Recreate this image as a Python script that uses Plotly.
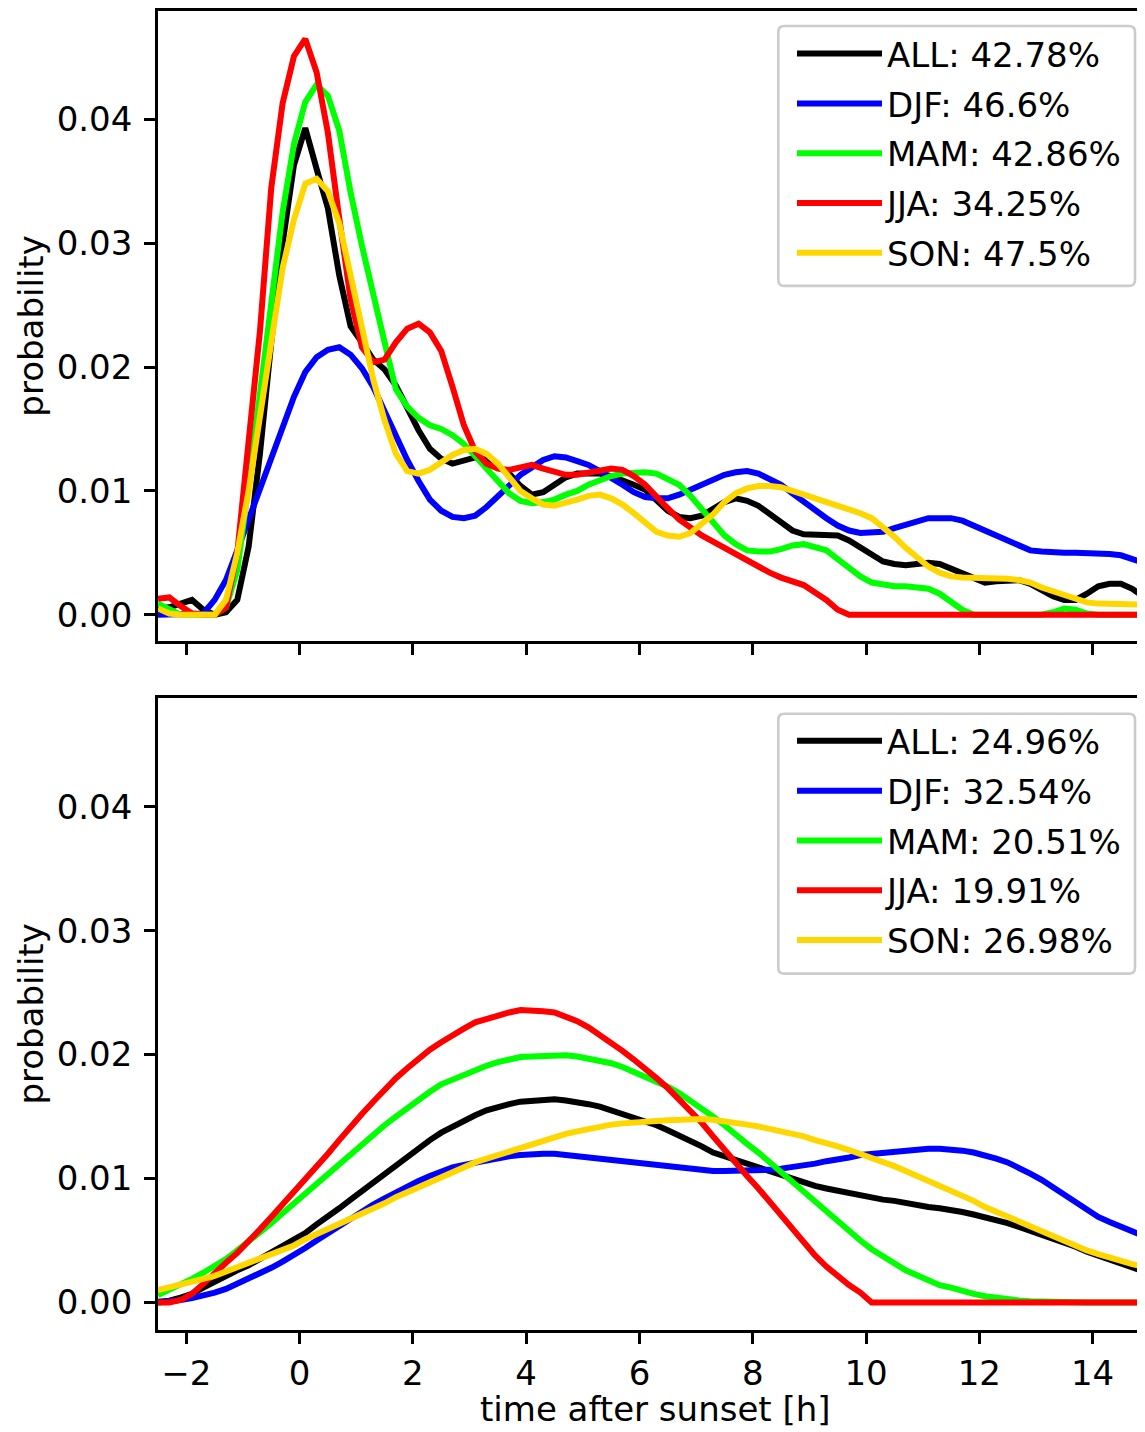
import plotly.graph_objects as go

# ---------------- data ----------------
hours = [-2.5, -2.3, -2.1, -1.9, -1.7, -1.5, -1.3, -1.1, -0.9, -0.7,
         -0.5, -0.3, -0.1, 0.1, 0.3, 0.5, 0.7, 0.9, 1.1, 1.3,
         1.5, 1.7, 1.9, 2.1, 2.3, 2.5, 2.7, 2.9, 3.1, 3.3,
         3.5, 3.7, 3.9, 4.1, 4.3, 4.5, 4.7, 4.9, 5.1, 5.3,
         5.5, 5.7, 5.9, 6.1, 6.3, 6.5, 6.7, 6.9, 7.1, 7.3,
         7.5, 7.7, 7.9, 8.1, 8.3, 8.5, 8.7, 8.9, 9.1, 9.3,
         9.5, 9.7, 9.9, 10.1, 10.3, 10.5, 10.7, 10.9, 11.1, 11.3,
         11.5, 11.7, 11.9, 12.1, 12.3, 12.5, 12.7, 12.9, 13.1, 13.3,
         13.5, 13.7, 13.9, 14.1, 14.3, 14.5, 14.7, 14.9, 15.1]

labels_top = ["ALL: 42.78%", "DJF: 46.6%", "MAM: 42.86%", "JJA: 34.25%", "SON: 47.5%"]
labels_bottom = ["ALL: 24.96%", "DJF: 32.54%", "MAM: 20.51%", "JJA: 19.91%", "SON: 26.98%"]
series_colors = ["#000000", "#0000ff", "#00ff00", "#ff0000", "#ffd700"]

top_all = [0.0005, 0.0006, 0.0009, 0.0012, 0.0004, 0.0, 0.0002, 0.0012, 0.0055, 0.013,
           0.022, 0.030, 0.0363, 0.0393, 0.036, 0.0328, 0.0274, 0.0233, 0.022, 0.0206,
           0.0198, 0.0185, 0.0167, 0.0149, 0.0134, 0.0126, 0.0122, 0.0124, 0.0127, 0.0125,
           0.012, 0.0114, 0.0104, 0.0097, 0.0099, 0.0105, 0.0111, 0.0114, 0.0114, 0.0114,
           0.0112, 0.0109, 0.0105, 0.0101, 0.0092, 0.0084, 0.0079, 0.0078, 0.008, 0.0085,
           0.0091, 0.0094, 0.0092, 0.0088, 0.0081, 0.0074, 0.0068, 0.0065, 0.0065, 0.0065,
           0.0064, 0.006, 0.0054, 0.0048, 0.0043, 0.0041, 0.004, 0.0041, 0.0042, 0.0041,
           0.0037, 0.0033, 0.0029, 0.0026, 0.0027, 0.0028, 0.0028, 0.0025, 0.002, 0.0015,
           0.0012, 0.0012, 0.0017, 0.0023, 0.0025, 0.0025, 0.0021, 0.0014, 0.0008]

top_djf = [0.0, 0.0, 0.0, 0.0, 0.0001, 0.0012, 0.0028, 0.0052, 0.0077, 0.0102,
           0.0129, 0.0153, 0.0176, 0.0196, 0.0208, 0.0214, 0.0216, 0.021, 0.0199, 0.0184,
           0.0164, 0.0144, 0.0125, 0.0108, 0.0093, 0.0084, 0.0079, 0.0078, 0.008, 0.0087,
           0.0096, 0.0105, 0.0113, 0.0119, 0.0125, 0.0128, 0.0127, 0.0124, 0.0121, 0.0116,
           0.0111, 0.0105, 0.0099, 0.0095, 0.0094, 0.0094, 0.0097, 0.0101, 0.0105, 0.0109,
           0.0113, 0.0115, 0.0116, 0.0114, 0.011, 0.0105, 0.0098, 0.0091, 0.0084, 0.0078,
           0.0072, 0.0068, 0.0066, 0.0066, 0.0067, 0.007, 0.0073, 0.0076, 0.0078, 0.0078,
           0.0078, 0.0076, 0.0072, 0.0068, 0.0064, 0.0059, 0.0055, 0.0052, 0.0051, 0.005,
           0.005, 0.005, 0.005, 0.005, 0.0049, 0.0048, 0.0045, 0.0042, 0.0039]

top_mam = [0.0009, 0.0004, 0.0, 0.0, 0.0, 0.0, 0.0006, 0.0036, 0.0105, 0.018,
           0.0255, 0.0325, 0.038, 0.0414, 0.0428, 0.0419, 0.0391, 0.0341, 0.0298, 0.0257,
           0.022, 0.0182, 0.0168, 0.0159, 0.0153, 0.015, 0.0145, 0.0138, 0.0128, 0.0118,
           0.0108, 0.0098, 0.0092, 0.009, 0.0091, 0.0093, 0.0097, 0.01, 0.0105, 0.0109,
           0.0112, 0.0114, 0.0115, 0.0115, 0.0114, 0.011, 0.0105, 0.0096, 0.0085, 0.0074,
           0.0064, 0.0057, 0.0052, 0.0051, 0.0051, 0.0053, 0.0056, 0.0057, 0.0055, 0.0052,
           0.0045, 0.0038, 0.0031, 0.0026, 0.0024, 0.0023, 0.0023, 0.0022, 0.0021, 0.0017,
           0.001, 0.0004, 0.0, 0.0, 0.0, 0.0, 0.0, 0.0, 0.0, 0.0002,
           0.0005, 0.0004, 0.0001, 0.0, 0.0, 0.0, 0.0, 0.0, 0.0]

top_jja = [0.0013, 0.0014, 0.0007, 0.0001, 0.0, 0.0, 0.0006, 0.005, 0.014, 0.0229,
           0.0345, 0.0413, 0.0451, 0.0465, 0.0438, 0.0389, 0.032, 0.0255, 0.0216, 0.0204,
           0.0206, 0.022, 0.0231, 0.0235, 0.0228, 0.0213, 0.0184, 0.0153, 0.0132, 0.0122,
           0.0118, 0.0117, 0.0119, 0.0121, 0.0118, 0.0115, 0.0113, 0.0113, 0.0115, 0.0117,
           0.0118, 0.0117, 0.0112, 0.0105, 0.0095, 0.0086, 0.0077, 0.007, 0.0064, 0.0059,
           0.0054, 0.0049, 0.0043, 0.0038, 0.0034, 0.003, 0.0027, 0.0024, 0.0018, 0.0012,
           0.0004, 0.0, 0.0, 0.0, 0.0, 0.0, 0.0, 0.0, 0.0, 0.0,
           0.0, 0.0, 0.0, 0.0, 0.0, 0.0, 0.0, 0.0, 0.0, 0.0,
           0.0, 0.0, 0.0, 0.0, 0.0, 0.0, 0.0, 0.0, 0.0]

top_son = [0.0005, 0.0001, 0.0, 0.0, 0.0, 0.0, 0.0012, 0.005, 0.01, 0.016,
           0.0225, 0.028, 0.0319, 0.0348, 0.0352, 0.0342, 0.0316, 0.0275, 0.023, 0.019,
           0.0157, 0.013, 0.0116, 0.0114, 0.0117, 0.0123, 0.0129, 0.0133, 0.0134, 0.013,
           0.0122, 0.0111, 0.01, 0.0094, 0.0089, 0.0088, 0.009, 0.0093, 0.0096, 0.0097,
           0.0094, 0.0089, 0.0082, 0.0074, 0.0067, 0.0064, 0.0063, 0.0066, 0.0073, 0.0081,
           0.0091, 0.0098, 0.0102, 0.0104, 0.0104, 0.0103, 0.01, 0.0097, 0.0094, 0.0091,
           0.0089, 0.0086, 0.0082, 0.0078, 0.0071, 0.0063, 0.0054, 0.0046, 0.0039, 0.0034,
           0.0031, 0.003, 0.003, 0.003, 0.003, 0.0029, 0.0028, 0.0026, 0.0022, 0.0019,
           0.0015, 0.0012, 0.001, 0.0009, 0.0009, 0.0009, 0.0009, 0.0008, 0.0008]

bot_all = [0.00005, 0.00015, 0.0004, 0.0007, 0.0012, 0.0017, 0.0021, 0.0026, 0.003, 0.0035,
           0.004, 0.0045, 0.005, 0.0056, 0.0063, 0.0069, 0.0076, 0.0083, 0.009, 0.0097,
           0.0104, 0.0111, 0.0118, 0.0125, 0.0131, 0.0137, 0.0142, 0.0147, 0.0151, 0.0155,
           0.0158, 0.016, 0.0162, 0.0163, 0.0164, 0.0164, 0.0163, 0.0162, 0.016, 0.0158,
           0.0155, 0.0153, 0.015, 0.0147, 0.0143, 0.0139, 0.0135, 0.013, 0.0126, 0.0121,
           0.0118, 0.0114, 0.0111, 0.0108, 0.0105, 0.0102, 0.01, 0.0097, 0.0094, 0.0092,
           0.009, 0.0088, 0.0087, 0.0085, 0.0083, 0.0082, 0.008, 0.0079, 0.0077, 0.0076,
           0.0075, 0.0073, 0.0071, 0.0069, 0.0067, 0.0064, 0.0061, 0.0058, 0.0055, 0.0052,
           0.0048, 0.0045, 0.0041, 0.0038, 0.0035, 0.0032, 0.0028, 0.0025, 0.0022]

bot_djf = [0.0, 0.00005, 0.0002, 0.00035, 0.00055, 0.0008, 0.0011, 0.0015, 0.0019, 0.0023,
           0.0028, 0.0033, 0.0038, 0.0044, 0.005, 0.0056, 0.0062, 0.0068, 0.0074, 0.0079,
           0.0084, 0.0089, 0.0094, 0.0098, 0.0102, 0.0106, 0.0109, 0.0111, 0.0113, 0.0115,
           0.0117, 0.0118, 0.0119, 0.012, 0.012, 0.012, 0.0119, 0.0118, 0.0117, 0.0116,
           0.0115, 0.0114, 0.0112, 0.0111, 0.011, 0.0109, 0.0108, 0.0107, 0.0107, 0.0106,
           0.0106, 0.0106, 0.0106, 0.0107, 0.0107, 0.0108, 0.0109, 0.0111, 0.0112, 0.0114,
           0.0115, 0.0117, 0.0119, 0.012, 0.0121, 0.0122, 0.0123, 0.01235, 0.0124, 0.0124,
           0.01235, 0.01225, 0.0121, 0.0119, 0.0116, 0.0113, 0.0109, 0.0104, 0.0099, 0.0093,
           0.0086, 0.008, 0.0074, 0.0069, 0.0065, 0.0061, 0.0057, 0.0054, 0.005]

bot_mam = [0.0006, 0.001, 0.0014, 0.0019, 0.0024, 0.0029, 0.0035, 0.0042, 0.0049, 0.0056,
           0.0064, 0.0072, 0.008, 0.0088, 0.0096, 0.0104, 0.0112, 0.012, 0.0128, 0.0135,
           0.0143, 0.015, 0.0157, 0.0164, 0.017, 0.0176, 0.018, 0.0184, 0.0188, 0.0191,
           0.0194, 0.0196, 0.0198, 0.01985, 0.0199, 0.01995, 0.01995, 0.01985, 0.0197, 0.0195,
           0.0193, 0.019, 0.0186, 0.0183, 0.0179, 0.0174, 0.0169, 0.0163, 0.0157, 0.015,
           0.0143, 0.0135, 0.0128, 0.0121, 0.0113, 0.0105, 0.0097, 0.0089, 0.0081, 0.0073,
           0.0065, 0.0057, 0.005, 0.0043, 0.0037, 0.0031, 0.0026, 0.0022, 0.0018, 0.0014,
           0.0012, 0.0009, 0.0007, 0.0005, 0.00035, 0.00025, 0.00016, 0.0001, 0.00006, 0.00003,
           0.00001, 0.0, 0.0, 0.0, 0.0, 0.0, 0.0, 0.0, 0.0]

bot_jja = [0.0, 0.0, 0.0002, 0.0007, 0.0015, 0.0024, 0.0032, 0.004, 0.0049, 0.0059,
           0.0069, 0.0079, 0.009, 0.01, 0.011, 0.012, 0.0131, 0.0142, 0.0152, 0.0162,
           0.0172, 0.0181, 0.0189, 0.0197, 0.0204, 0.021, 0.0216, 0.0221, 0.0226, 0.0229,
           0.0232, 0.0234, 0.0236, 0.0236, 0.0235, 0.0234, 0.0231, 0.0227, 0.0222, 0.0216,
           0.021, 0.0203, 0.0196, 0.0189, 0.0181, 0.0173, 0.0164, 0.0155, 0.0145, 0.0134,
           0.0123, 0.0112, 0.0102, 0.0092, 0.0081, 0.007, 0.0059, 0.0048, 0.0038, 0.0029,
           0.0021, 0.0014, 0.0008, 0.0, 0.0, 0.0, 0.0, 0.0, 0.0, 0.0,
           0.0, 0.0, 0.0, 0.0, 0.0, 0.0, 0.0, 0.0, 0.0, 0.0,
           0.0, 0.0, 0.0, 0.0, 0.0, 0.0, 0.0, 0.0, 0.0]

bot_son = [0.001, 0.0012, 0.0014, 0.00165, 0.0019, 0.00215, 0.0025, 0.0028, 0.0032, 0.0035,
           0.0038, 0.0042, 0.0046, 0.0051, 0.0055, 0.0059, 0.0063, 0.0067, 0.0071, 0.0076,
           0.008, 0.0085, 0.0089, 0.0094, 0.0098, 0.0102, 0.0106, 0.011, 0.0113, 0.0116,
           0.0119, 0.0121, 0.0124, 0.0127, 0.013, 0.0133, 0.0136, 0.0138, 0.014, 0.0142,
           0.01435, 0.01445, 0.01455, 0.0146, 0.01465, 0.0147, 0.01475, 0.0148, 0.0148, 0.01475,
           0.01465, 0.0145, 0.01435, 0.0142, 0.014, 0.01385, 0.0136, 0.0134, 0.0131, 0.0129,
           0.0126, 0.0123, 0.012, 0.0117, 0.0114, 0.011, 0.0106, 0.0102, 0.0098, 0.0095,
           0.0091, 0.0086, 0.0082, 0.0077, 0.0073, 0.0069, 0.0065, 0.0061, 0.0057, 0.0053,
           0.0049, 0.0046, 0.0042, 0.0039, 0.0036, 0.0033, 0.0031, 0.0029, 0.0026]

x_ticks = [-2, 0, 2, 4, 6, 8, 10, 12, 14]
y_ticks = [0.0, 0.01, 0.02, 0.03, 0.04]

top_series = [top_all, top_djf, top_mam, top_jja, top_son]
bottom_series = [bot_all, bot_djf, bot_mam, bot_jja, bot_son]

# ---------------- layout geometry (page pixels) ----------------
PAGE_W, PAGE_H = 1145, 1432
OFF = 8                       # default body margin of the html page
W, H = PAGE_W - OFF, PAGE_H - OFF
ML = 158 - OFF                # left spine at page x = 158
MT = 11 - OFF                 # top of plot area at page y = 11
PLOT_BOTTOM = 1330.5          # page y of the bottom of the lower plot area
MB = PAGE_H - PLOT_BOTTOM
PW = W - ML
PH = H - MT - MB


def px_x(px):
    return (px - OFF - ML) / PW


def px_y(py):
    return (PLOT_BOTTOM - py) / PH


FONT = "DejaVu Sans"
FS = 34

fig = go.Figure()
for name, ys, col in zip(labels_top, top_series, series_colors):
    fig.add_trace(go.Scatter(x=hours, y=ys, mode="lines", name=name,
                             line=dict(color=col, width=6),
                             xaxis="x", yaxis="y", legend="legend", legendgroup="t" + name))
for name, ys, col in zip(labels_bottom, bottom_series, series_colors):
    fig.add_trace(go.Scatter(x=hours, y=ys, mode="lines", name=name,
                             line=dict(color=col, width=6),
                             xaxis="x2", yaxis="y2", legend="legend2", legendgroup="b" + name))

axis_common = dict(showline=True, linecolor="black", linewidth=2.7,
                   ticks="outside", ticklen=11, tickwidth=2.5, tickcolor="black",
                   showgrid=False, zeroline=False,
                   tickfont=dict(family=FONT, size=FS, color="black"))

top_dom = [px_y(641.5), 1.0]
bot_dom = [0.0, px_y(698.5)]

x_range = [-2.5, 14.925]

legend_common = dict(font=dict(family=FONT, size=FS, color="black"),
                     bgcolor="rgba(0,0,0,0)", borderwidth=0,
                     xanchor="left", yanchor="top", itemwidth=85,
                     tracegroupgap=2.6, traceorder="grouped", itemclick=False,
                     itemdoubleclick=False)


def rounded_box(x0p, x1p, y0p, y1p, r=6):
    x0, x1 = px_x(x0p), px_x(x1p)
    yt, yb = px_y(y0p), px_y(y1p)
    rx, ry = r / PW, r / PH
    path = (f"M {x0 + rx},{yt} L {x1 - rx},{yt} Q {x1},{yt} {x1},{yt - ry} "
            f"L {x1},{yb + ry} Q {x1},{yb} {x1 - rx},{yb} L {x0 + rx},{yb} "
            f"Q {x0},{yb} {x0},{yb + ry} L {x0},{yt - ry} Q {x0},{yt} {x0 + rx},{yt} Z")
    return dict(type="path", xref="paper", yref="paper", path=path,
                fillcolor="rgba(255,255,255,0.8)", line=dict(color="#cccccc", width=2.6),
                layer="above")


fig.update_layout(
    width=W, height=H,
    margin=dict(l=ML, r=0, t=MT, b=MB, pad=0),
    paper_bgcolor="white", plot_bgcolor="white",
    showlegend=True,
    xaxis=dict(domain=[0, 1], anchor="y", range=x_range, tickvals=x_ticks,
               showticklabels=False, mirror=True, **axis_common),
    xaxis2=dict(domain=[0, 1], anchor="y2", range=x_range, tickvals=x_ticks,
                mirror=True, **axis_common),
    yaxis=dict(domain=top_dom, anchor="x", range=[-0.00214, 0.04875],
               tickvals=y_ticks, tickformat=".2f", ticklabelstandoff=5, **axis_common),
    yaxis2=dict(domain=bot_dom, anchor="x2", range=[-0.00222, 0.04875],
                tickvals=y_ticks, tickformat=".2f", ticklabelstandoff=5, **axis_common),
    legend=dict(x=px_x(792), y=px_y(25), **legend_common),
    legend2=dict(x=px_x(792), y=px_y(712.5), **legend_common),
    shapes=[rounded_box(778.3, 1135, 26, 286), rounded_box(778.3, 1135, 714, 974)],
    annotations=[
        dict(text="probability", xref="paper", yref="paper", x=px_x(31.5),
             y=(top_dom[0] + top_dom[1]) / 2, xanchor="center", yanchor="middle",
             textangle=-90, showarrow=False, font=dict(family=FONT, size=FS, color="black")),
        dict(text="probability", xref="paper", yref="paper", x=px_x(31.5),
             y=(bot_dom[0] + bot_dom[1]) / 2, xanchor="center", yanchor="middle",
             textangle=-90, showarrow=False, font=dict(family=FONT, size=FS, color="black")),
        dict(text="time after sunset [h]", xref="paper", yref="paper", x=px_x(655),
             y=px_y(1431), xanchor="center", yanchor="bottom", showarrow=False,
             borderpad=0, font=dict(family=FONT, size=FS, color="black")),
    ],
)

fig.write_html("out.html")
